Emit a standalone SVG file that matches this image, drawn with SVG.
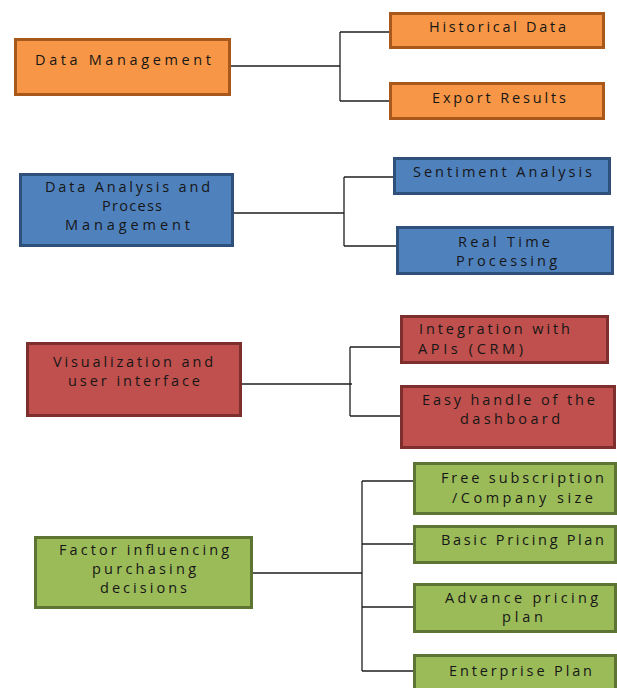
<svg xmlns="http://www.w3.org/2000/svg" width="617" height="688" viewBox="0 0 617 688">
<style>
  .box { stroke-width: 3; }
  .or { fill: #F79646; stroke: #A8581A; }
  .bl { fill: #4F81BD; stroke: #2E507A; }
  .rd { fill: #C0504D; stroke: #7D2F2D; }
  .gr { fill: #9BBB59; stroke: #5E7432; }
  .t { font-family: "Open Sans", "DejaVu Sans", sans-serif; font-size: 14.5px; fill: #161616; }
  .conn { fill: none; stroke: #1f1f1f; stroke-width: 1.3; }
</style>
<rect width="617" height="688" fill="#ffffff"/>
<g id="connectors">
  <path class="conn" d="M231 66 H340 M340 32 V101 M340 32 H389 M340 101 H389"/>
  <path class="conn" d="M234 213 H344 M344 177 V246 M344 177 H393 M344 246 H396"/>
  <path class="conn" d="M242 384 H352 M350 347 V416 M350 347 H400 M350 416 H400"/>
  <path class="conn" d="M253 573 H362 M362 481 V671 M362 481 H413 M362 544 H413 M362 607 H413 M362 671 H413"/>
</g>
<g id="data-management">
  <rect class="box or" x="15.5" y="39.5" width="214" height="55"/>
  <text class="t" x="35" y="65" textLength="176" lengthAdjust="spacing">Data Management</text>
</g>
<g id="historical-data">
  <rect class="box or" x="390.5" y="13.5" width="213" height="34"/>
  <text class="t" x="429" y="32" textLength="137" lengthAdjust="spacing">Historical Data</text>
</g>
<g id="export-results">
  <rect class="box or" x="390.5" y="83.5" width="213" height="35"/>
  <text class="t" x="432" y="103" textLength="134" lengthAdjust="spacing">Export Results</text>
</g>
<g id="data-analysis">
  <rect class="box bl" x="20.5" y="174.5" width="212" height="71"/>
  <text class="t" x="45" y="192" textLength="165" lengthAdjust="spacing">Data Analysis and</text>
  <text class="t" x="102" y="211" textLength="60" lengthAdjust="spacing">Process</text>
  <text class="t" x="65" y="230" textLength="125" lengthAdjust="spacing">Management</text>
</g>
<g id="sentiment-analysis">
  <rect class="box bl" x="394.5" y="158.5" width="215" height="35"/>
  <text class="t" x="413" y="177" textLength="179" lengthAdjust="spacing">Sentiment Analysis</text>
</g>
<g id="real-time">
  <rect class="box bl" x="397.5" y="227.5" width="215" height="46"/>
  <text class="t" x="458" y="247" textLength="92" lengthAdjust="spacing">Real Time</text>
  <text class="t" x="456" y="266" textLength="101" lengthAdjust="spacing">Processing</text>
</g>
<g id="visualization">
  <rect class="box rd" x="27.5" y="343.5" width="213" height="72"/>
  <text class="t" x="53" y="367" textLength="160" lengthAdjust="spacing">Visualization and</text>
  <text class="t" x="68" y="386" textLength="132" lengthAdjust="spacing">user interface</text>
</g>
<g id="integration">
  <rect class="box rd" x="401.5" y="316.5" width="206" height="46"/>
  <text class="t" x="419" y="334" textLength="151" lengthAdjust="spacing">Integration with</text>
  <text class="t" x="418" y="354" textLength="105" lengthAdjust="spacing">APIs (CRM)</text>
</g>
<g id="easy-handle">
  <rect class="box rd" x="401.5" y="386.5" width="213" height="61"/>
  <text class="t" x="422" y="405" textLength="173" lengthAdjust="spacing">Easy handle of the</text>
  <text class="t" x="460" y="424" textLength="100" lengthAdjust="spacing">dashboard</text>
</g>
<g id="factor">
  <rect class="box gr" x="35.5" y="537.5" width="216" height="70"/>
  <text class="t" x="59" y="555" textLength="170" lengthAdjust="spacing">Factor influencing</text>
  <text class="t" x="92" y="574" textLength="104" lengthAdjust="spacing">purchasing</text>
  <text class="t" x="100" y="593" textLength="87" lengthAdjust="spacing">decisions</text>
</g>
<g id="free-subscription">
  <rect class="box gr" x="414.5" y="463.5" width="201" height="50"/>
  <text class="t" x="441" y="483" textLength="163" lengthAdjust="spacing">Free subscription</text>
  <text class="t" x="452" y="503" textLength="141" lengthAdjust="spacing">/Company size</text>
</g>
<g id="basic-pricing">
  <rect class="box gr" x="414.5" y="526.5" width="201" height="36"/>
  <text class="t" x="441" y="545" textLength="163" lengthAdjust="spacing">Basic Pricing Plan</text>
</g>
<g id="advance-pricing">
  <rect class="box gr" x="414.5" y="584.5" width="201" height="47"/>
  <text class="t" x="445" y="603" textLength="153" lengthAdjust="spacing">Advance pricing</text>
  <text class="t" x="502" y="622" textLength="41" lengthAdjust="spacing">plan</text>
</g>
<g id="enterprise">
  <rect class="box gr" x="414.5" y="655.5" width="201" height="40"/>
  <text class="t" x="449" y="676" textLength="143" lengthAdjust="spacing">Enterprise Plan</text>
</g>
</svg>
